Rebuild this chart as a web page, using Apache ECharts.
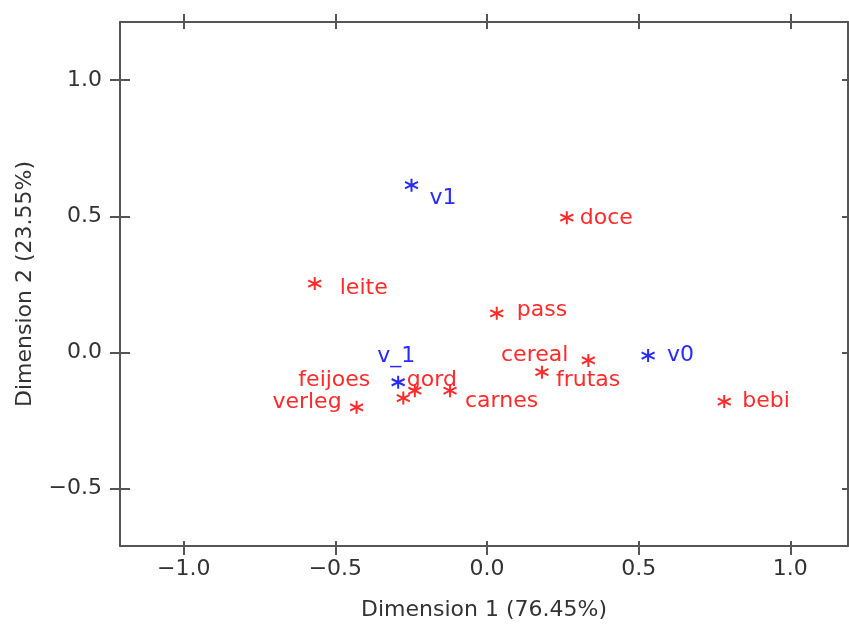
<!DOCTYPE html>
<html lang="pt" style="height: 100%">
<head>
  <meta charset="utf-8">
  <title>Análise de correspondência</title>
  <style>
    body {
      margin: 0;
      background: #fff;
    }
    #container {
      width: 849px;
      height: 630px;
    }
  </style>
</head>
<body style="height: 100%">
  <div id="container"></div>

  <script type="text/javascript" src="https://fastly.jsdelivr.net/npm/echarts@6/dist/echarts.min.js"></script>

  <script type="text/javascript">
    // Categorias de linha (alimentos) - vermelho
    var linhaNomes = ['doce', 'leite', 'pass', 'cereal', 'frutas', 'bebi', 'feijoes', 'gord', 'carnes', 'verleg'];
    var linhaDim1 = [0.263, -0.568, 0.032, 0.334, 0.181, 0.782, -0.276, -0.238, -0.122, -0.430];
    var linhaDim2 = [0.495, 0.253, 0.144, -0.029, -0.072, -0.180, -0.167, -0.140, -0.140, -0.201];

    // Categorias de coluna - azul
    var colunaNomes = ['v1', 'v_1', 'v0'];
    var colunaDim1 = [-0.249, -0.293, 0.531];
    var colunaDim2 = [0.614, -0.109, -0.011];

    // Marcas dos eixos
    var ticksX = [-1.0, -0.5, 0.0, 0.5, 1.0];
    var ticksY = [-0.5, 0.0, 0.5, 1.0];

    var nomeEixoX = 'Dimension 1 (76.45%)';
    var nomeEixoY = 'Dimension 2 (23.55%)';

    // posição dos rótulos (alinhamento e deslocamento a partir do ponto)
    var rotulos = {
      'doce':    ['left', [13, 1]],
      'leite':   ['left', [25, 5]],
      'pass':    ['left', [20, -3]],
      'cereal':  ['right', [-20, -5]],
      'frutas':  ['left', [14, 8]],
      'bebi':    ['left', [18, 0]],
      'feijoes': ['right', [-33, -18]],
      'gord':    ['left', [-8, -10]],
      'carnes':  ['left', [15, 11]],
      'verleg':  ['right', [-15, -5]],
      'v1':      ['left', [18, 13]],
      'v_1':     ['center', [-2, -26]],
      'v0':      ['left', [19, 0]]
    };

    var vermelho = '#ff2a2a';
    var azul = '#2a2aff';
    var fonte = 'DejaVu Sans';
    var asterisco = 'path://M0,-10L0,10M-8.66,-5L8.66,5M-8.66,5L8.66,-5';

    function montaPontos(nomes, xs, ys) {
      var pts = [];
      for (var i = 0; i < nomes.length; i++) {
        var r = rotulos[nomes[i]];
        pts.push({
          name: nomes[i],
          value: [xs[i], ys[i]],
          label: { align: r[0], offset: r[1] }
        });
      }
      return pts;
    }

    function fmt(v) {
      var s = Math.abs(v).toFixed(1);
      return v < -1e-9 ? '\u2212' + s : s;
    }

    var xMin = -1.21, xMax = 1.19;
    var yMin = -0.71, yMax = 1.213;
    var corEixo = '#555';

    function eixoX(pos, tickInside, tickLen, comLinha, comRotulo) {
      return {
        type: 'value',
        position: pos,
        min: xMin,
        max: xMax,
        splitLine: { show: false },
        axisLine: { show: comLinha, onZero: false, lineStyle: { color: corEixo, width: 2 } },
        axisTick: { show: true, inside: tickInside, length: tickLen, customValues: ticksX,
          lineStyle: { color: corEixo, width: 2 } },
        axisLabel: { show: comRotulo, customValues: ticksX, formatter: fmt,
          fontFamily: fonte, fontSize: 22, color: '#333', margin: 12 }
      };
    }

    function eixoY(pos, tickInside, tickLen, comLinha, comRotulo) {
      return {
        type: 'value',
        position: pos,
        min: yMin,
        max: yMax,
        splitLine: { show: false },
        axisLine: { show: comLinha, onZero: false, lineStyle: { color: corEixo, width: 2 } },
        axisTick: { show: true, inside: tickInside, length: tickLen, customValues: ticksY,
          lineStyle: { color: corEixo, width: 2 } },
        axisLabel: { show: comRotulo, customValues: ticksY, formatter: fmt,
          fontFamily: fonte, fontSize: 22, color: '#333', margin: 18 }
      };
    }

    var xAxes = [
      eixoX('bottom', false, 9, true, true),
      eixoX('bottom', true, 5, false, false),
      eixoX('top', false, 8, true, false),
      eixoX('top', true, 7, false, false)
    ];
    xAxes[0].name = nomeEixoX;
    xAxes[0].nameLocation = 'middle';
    xAxes[0].nameGap = 53;
    xAxes[0].nameTextStyle = { fontFamily: fonte, fontSize: 22, color: '#333' };

    var yAxes = [
      eixoY('left', false, 10, true, true),
      eixoY('left', true, 10, false, false),
      eixoY('right', true, 6, true, false)
    ];
    yAxes[0].name = nomeEixoY;
    yAxes[0].nameLocation = 'middle';
    yAxes[0].nameGap = 84;
    yAxes[0].nameTextStyle = { fontFamily: fonte, fontSize: 22, color: '#333' };

    function serie(nome, pts, cor) {
      return {
        name: nome,
        type: 'scatter',
        xAxisIndex: 0,
        yAxisIndex: 0,
        symbol: asterisco,
        symbolSize: 13,
        data: pts,
        itemStyle: { color: 'rgba(0,0,0,0)', borderColor: cor, borderWidth: 2, opacity: 1 },
        label: {
          show: true,
          position: 'inside',
          verticalAlign: 'middle',
          formatter: '{b}',
          fontFamily: fonte,
          fontSize: 22,
          color: cor
        },
        emphasis: { disabled: true }
      };
    }

    var dom = document.getElementById('container');
    var myChart = echarts.init(dom, null, { renderer: 'canvas' });

    var option = {
      backgroundColor: '#fff',
      animation: false,
      grid: { left: 120, right: 1, top: 22, bottom: 84 },
      xAxis: xAxes,
      yAxis: yAxes,
      series: [
        serie('linhas', montaPontos(linhaNomes, linhaDim1, linhaDim2), vermelho),
        serie('colunas', montaPontos(colunaNomes, colunaDim1, colunaDim2), azul)
      ]
    };

    myChart.setOption(option);
    window.addEventListener('resize', myChart.resize);
  </script>
</body>
</html>
